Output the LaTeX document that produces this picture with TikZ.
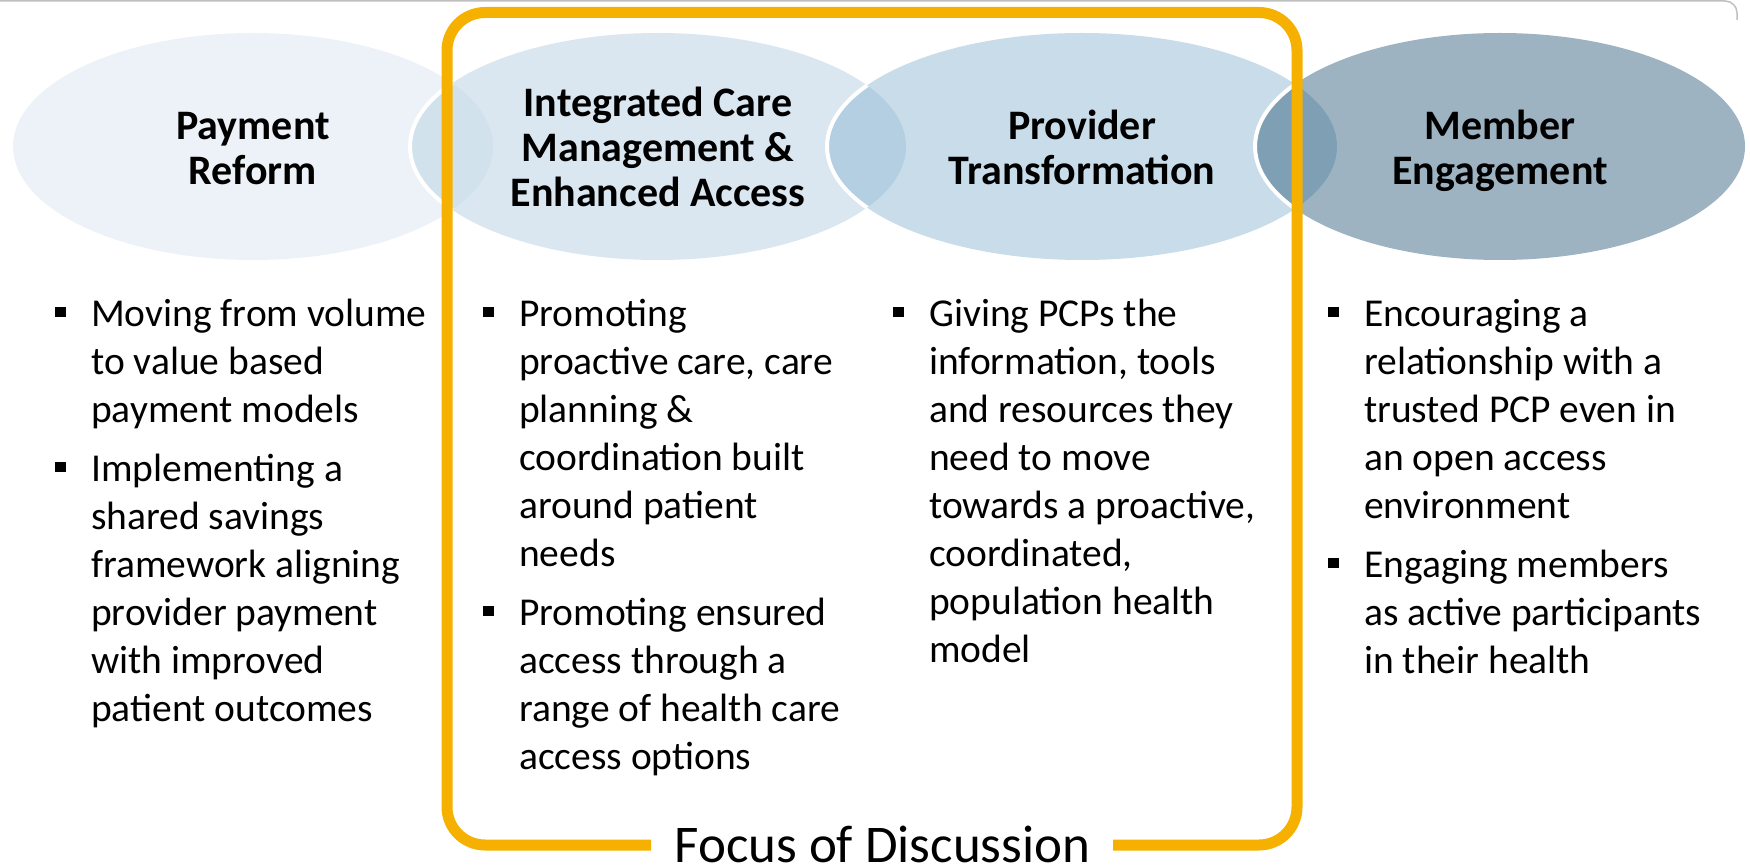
\documentclass[tikz,border=0pt]{standalone}
\usepackage{fontspec}
\setmainfont{Carlito}
\definecolor{fillP}{HTML}{EDF2F8}
\definecolor{fillI}{HTML}{DAE6F0}
\definecolor{fillR}{HTML}{C8DCEA}
\definecolor{fillM}{HTML}{9DB3C1}
\definecolor{ovPI}{HTML}{D2E2EC}
\definecolor{ovIR}{HTML}{B4CFE2}
\definecolor{ovRM}{HTML}{7F9FB5}
\definecolor{frameorange}{HTML}{F5B000}
\definecolor{topgray}{HTML}{BFBFBF}
\newcommand\bsq{\makebox[36pt][l]{\rule[9pt]{10.5pt}{10pt}}}
\newcommand\hs{\vphantom{Pdg}}
\def\ellP{(253,146.5) ellipse [x radius=240pt, y radius=113.5pt]}
\def\ellI{(658,146.5) ellipse [x radius=248pt, y radius=113.5pt]}
\def\ellR{(1082,146.5) ellipse [x radius=255pt, y radius=113.5pt]}
\def\ellM{(1500,146.5) ellipse [x radius=245pt, y radius=113.5pt]}
\begin{document}
\begin{tikzpicture}[x=1pt,y=-1pt,
  head/.style={align=center, inner sep=0pt, font=\fontsize{42}{45}\selectfont\bfseries},
  col/.style={anchor=north west, inner sep=0pt, font=\fontsize{39.5}{48}\selectfont},
  outline/.style={draw=white, line width=4pt},
  frame/.style={draw=frameorange, line width=11pt, rounded corners=38pt, line cap=butt}]
\useasboundingbox (0,0) rectangle (1750,866);
% faint top border
\draw[topgray, line width=1.5pt, rounded corners=12pt] (0,1) -- (1737,1) -- (1737,20);
% ellipses
\fill[fillP] \ellP;
\fill[fillI] \ellI;
\fill[fillR] \ellR;
\fill[fillM] \ellM;
% overlaps
\begin{scope}\clip \ellP; \fill[ovPI] \ellI; \end{scope}
\begin{scope}\clip \ellI; \fill[ovIR] \ellR; \end{scope}
\begin{scope}\clip \ellR; \fill[ovRM] \ellM; \end{scope}
% white outlines of the front ellipse inside the previous one
\begin{scope}\clip \ellP; \draw[outline] \ellI; \end{scope}
\begin{scope}\clip \ellI; \draw[outline] \ellR; \end{scope}
\begin{scope}\clip \ellR; \draw[outline] \ellM; \end{scope}
% headings
\node[head] (hP) at (253,150.5) {Payment\hs\\Reform\hs};
\node[head] (hI) at (658,150.5) {Integrated Care\hs\\Management \&\\Enhanced Access\hs};
\node[head] (hR) at (1082,150.5) {Provider\hs\\Transformation\hs};
\node[head] (hM) at (1500,150.5) {Member\hs\\Engagement\hs};
% focus frame
\node[inner sep=0pt, anchor=base, font=\fontsize{53}{60}\selectfont] (focus) at (882.5,862) {Focus of Discussion};
\draw[frame] (651,845) -- (447,845) -- (447,12.5) -- (1297,12.5) -- (1297,845) -- (1113,845);
% bullet columns
\node[col] (c1) at (55,292.4) {\begin{tabular}{@{}l@{}l@{}}
\bsq & Moving from volume\\
 & to value based\\
 & payment models\\[11pt]
\bsq & Implementing a\\
 & shared savings\\
 & framework aligning\\
 & provider payment\\
 & with improved\\
 & patient outcomes
\end{tabular}};
\node[col] (c2) at (483,292.4) {\begin{tabular}{@{}l@{}l@{}}
\bsq & Promoting\\
 & proactive care, care\\
 & planning \&\\
 & coordination built\\
 & around patient\\
 & needs\\[11pt]
\bsq & Promoting ensured\\
 & access through a\\
 & range of health care\\
 & access options
\end{tabular}};
\node[col] (c3) at (893,292.4) {\begin{tabular}{@{}l@{}l@{}}
\bsq & Giving PCPs the\\
 & information, tools\\
 & and resources they\\
 & need to move\\
 & towards a proactive,\\
 & coordinated,\\
 & population health\\
 & model
\end{tabular}};
\node[col] (c4) at (1328,292.4) {\begin{tabular}{@{}l@{}l@{}}
\bsq & Encouraging a\\
 & relationship with a\\
 & trusted PCP even in\\
 & an open access\\
 & environment\\[11pt]
\bsq & Engaging members\\
 & as active participants\\
 & in their health
\end{tabular}};
\end{tikzpicture}
\end{document}
